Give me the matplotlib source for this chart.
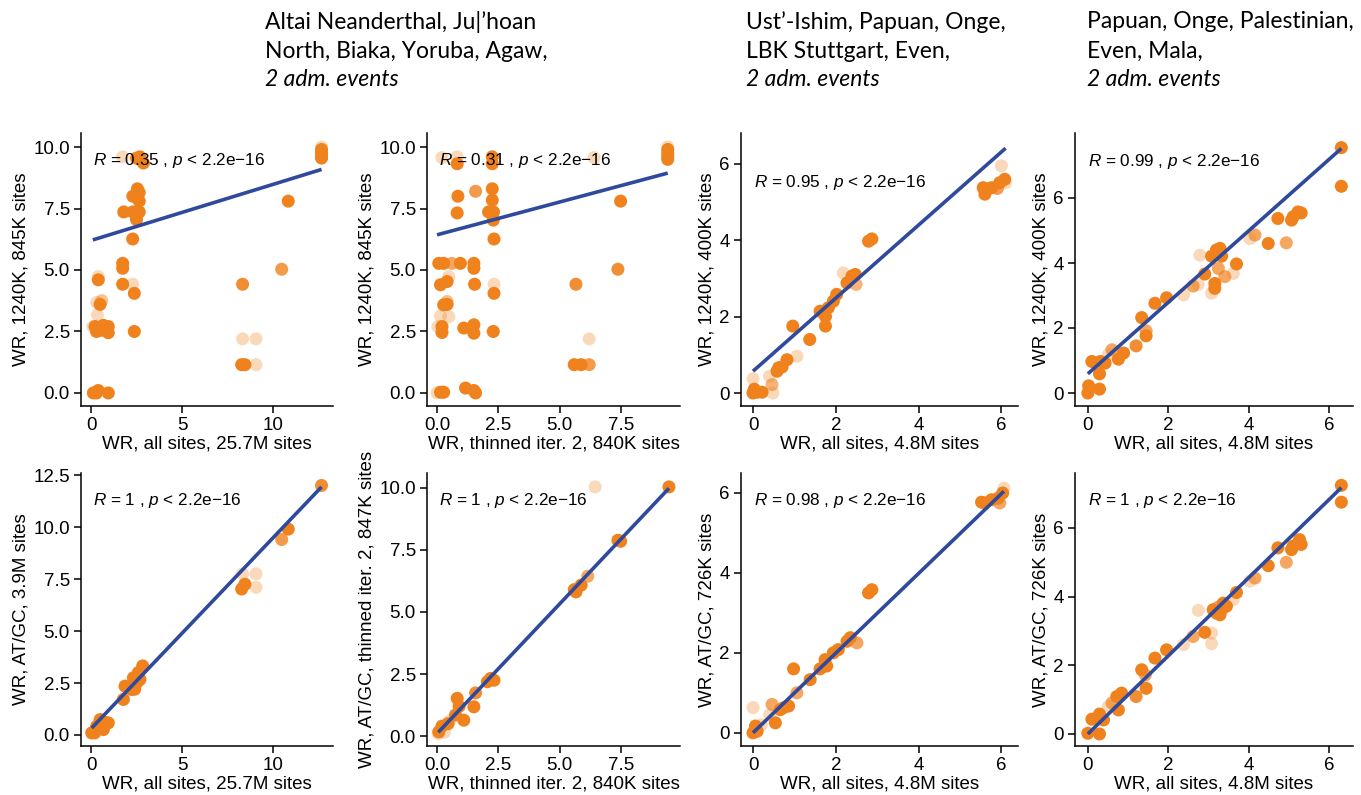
import matplotlib
matplotlib.use("Agg")
import matplotlib.pyplot as plt
import numpy as np

plt.rcParams['font.family'] = ['Liberation Sans', 'DejaVu Sans']
plt.rcParams['mathtext.fontset'] = 'custom'
plt.rcParams['mathtext.it'] = 'Liberation Sans:italic'
plt.rcParams['mathtext.rm'] = 'Liberation Sans'

ORANGE = (0.941, 0.51, 0.118)
BLUE = '#2F4A9C'

# ---- data: (x, y, alpha) per panel ----
p1_x = [12.67, 12.67, 12.67, 12.67, 12.67, 10.84, 10.48, 8.33, 8.28, 8.46, 9.07, 8.33, 9.07,
        1.74, 2.69, 2.88, 2.5, 2.55, 2.65, 2.3, 2.65, 1.8, 2.3, 2.65, 2.5, 2.29, 1.74, 1.74,
        1.74, 2.29, 2.38, 2.38, 0.4, 0.4, 0.31, 0.59, 0.5, 0.35, 0.1, 0.22, 0.3, 0.68, 0.95,
        0.95, 0.55, 0.13, 0.4, 0.3, 0.95]
p1_y = [10.0, 9.9, 9.75, 9.6, 9.55, 7.8, 5.03, 4.42, 1.15, 1.15, 1.15, 2.2, 2.2,
        9.6, 9.6, 9.35, 9.55, 8.3, 8.15, 8.0, 7.8, 7.36, 7.36, 7.36, 7.05, 6.26, 5.27, 5.07,
        4.42, 4.42, 4.05, 2.5, 4.73, 4.6, 3.68, 3.75, 3.6, 3.18, 2.7, 2.7, 2.5, 2.75, 2.7,
        2.45, 2.55, 0.0, 0.1, 0.0, 0.0]
p1_a = [0.3, 1, 1, 1, 1, 1, 0.8, 0.9, 1, 1, 0.3, 0.3, 0.3,
        0.3, 1, 1, 1, 1, 1, 1, 1, 1, 1, 1, 1, 1, 1, 1,
        1, 0.3, 1, 1, 0.3, 1, 0.3, 0.5, 1, 0.3, 0.3, 1, 1, 1, 1,
        1, 1, 1, 1, 1, 1]

p2_x = [9.4, 9.4, 9.4, 9.4, 9.4, 7.48, 7.37, 5.66, 5.59, 5.87, 6.2, 6.2,
        0.2, 0.82, 0.82, 2.25, 2.25, 6.4, 0.85, 1.57, 2.25, 2.25, 0.82, 2.1, 2.3, 2.29, 2.32,
        0.07, 0.27, 0.6, 0.95, 1.5, 1.5, 0.14, 0.41, 0.48, 1.53, 2.32, 2.32,
        0.41, 0.41, 0.27, 0.14, 0.48, 0.2, 0.2, 1.09, 1.5, 1.5, 2.29, 0.03,
        0.14, 0.27, 1.16, 1.5, 1.57, 0.0]
p2_y = [10.0, 9.9, 9.75, 9.6, 9.5, 7.8, 5.03, 4.42, 1.15, 1.15, 1.15, 2.2,
        9.57, 9.6, 9.32, 9.6, 9.32, 9.57, 8.0, 8.2, 8.3, 7.84, 7.32, 7.36, 7.36, 7.03, 6.26,
        5.27, 5.27, 5.27, 5.27, 5.27, 5.07, 4.4, 4.53, 4.73, 4.42, 4.42, 4.05,
        3.72, 3.6, 3.58, 3.13, 3.1, 2.7, 2.46, 2.64, 2.77, 2.43, 2.5, 2.7,
        0.03, 0.03, 0.2, 0.1, 0.0, 0.0]
p2_a = [0.3, 1, 1, 1, 1, 1, 0.9, 0.9, 1, 1, 0.8, 0.3,
        0.3, 0.3, 1, 1, 1, 0.3, 1, 0.8, 1, 1, 1, 1, 1, 1, 1,
        1, 1, 0.7, 1, 1, 1, 1, 1, 0.3, 1, 0.3, 1,
        0.5, 1, 1, 0.3, 0.3, 1, 1, 1, 1, 1, 1, 0.3,
        1, 1, 1, 1, 1, 0.3]

p3_x = [0.0, 0.1, 0.22, 0.03, 0.0, 0.46, 0.48, 0.4, 0.58, 0.62, 0.7, 0.82, 1.06, 0.96, 1.37,
        1.62, 1.75, 1.75, 1.82, 1.94, 2.02, 2.18, 2.27, 2.39, 2.47, 2.49, 2.79, 2.87,
        5.56, 5.6, 5.76, 5.96, 6.08, 6.0, 6.1, 5.9]
p3_y = [0.0, 0.02, 0.02, 0.1, 0.37, 0.22, 0.0, 0.44, 0.57, 0.66, 0.68, 0.87, 0.96, 1.75, 1.4,
        2.14, 2.0, 1.75, 2.23, 2.4, 2.58, 3.14, 2.88, 3.06, 3.1, 2.84, 3.97, 4.03,
        5.37, 5.2, 5.37, 5.5, 5.59, 5.94, 5.5, 5.35]
p3_a = [1, 1, 1, 1, 0.3, 0.6, 0.3, 0.3, 1, 1, 1, 1, 0.3, 1, 1,
        1, 1, 1, 1, 1, 1, 0.3, 1, 1, 1, 0.6, 1, 1,
        1, 1, 1, 1, 1, 0.3, 0.3, 0.8]

p4_x = [0.0, 0.02, 0.29, 0.29, 0.1, 0.31, 0.43, 0.51, 0.6, 0.76, 0.89, 1.2, 1.34, 1.45, 1.45,
        1.67, 1.96, 2.38, 2.62, 2.75, 2.79, 2.91, 3.08, 3.16, 3.16, 3.08, 3.2, 3.29, 3.33,
        3.25, 3.41, 3.62, 3.7, 4.03, 4.16, 4.49, 4.94, 4.73, 5.07, 5.11, 5.23, 5.31, 6.31, 6.31]
p4_y = [0.0, 0.22, 0.12, 0.59, 0.97, 0.97, 0.92, 1.18, 1.33, 1.04, 1.23, 1.45, 2.32, 1.76, 1.91,
        2.76, 2.93, 3.02, 3.29, 3.34, 4.24, 3.66, 3.07, 3.37, 3.22, 4.21, 4.4, 4.45, 4.21,
        3.83, 3.58, 3.68, 3.97, 4.75, 4.86, 4.6, 4.62, 5.37, 5.32, 5.42, 5.57, 5.54, 7.55, 6.36]
p4_a = [1, 1, 1, 1, 1, 1, 1, 0.3, 0.7, 1, 1, 0.9, 1, 1, 0.7,
        1, 1, 0.3, 0.7, 0.3, 0.3, 1, 0.3, 1, 1, 1, 1, 1, 1,
        0.7, 0.7, 0.3, 1, 0.3, 0.7, 1, 0.7, 1, 1, 1, 1, 1, 1, 1]

p5_x = [12.67, 10.84, 10.48, 8.28, 8.46, 9.07, 9.07, 8.33, 1.78, 1.87, 2.23, 2.33, 2.51,
        2.69, 2.84, 2.6, 2.4, 0.04, 0.31, 0.5, 0.68, 0.95, 0.8, 0.2]
p5_y = [12.0, 9.9, 9.4, 7.02, 7.25, 7.75, 7.1, 7.75, 1.71, 2.35, 2.19, 2.75, 2.51,
        2.67, 3.32, 3.0, 2.2, 0.1, 0.42, 0.74, 0.26, 0.58, 0.6, 0.1]
p5_a = [0.9, 1, 0.8, 1, 1, 0.3, 0.3, 0.3, 1, 1, 1, 1, 1,
        1, 1, 1, 1, 1, 1, 1, 1, 1, 1, 1]

p6_x = [9.45, 6.44, 7.37, 7.48, 6.14, 5.87, 5.59, 5.66, 2.18, 2.32, 2.05, 1.57, 1.5, 1.09,
        0.82, 0.9, 0.75, 0.45, 0.2, 0.07, 0.3, 0.05, 0.5]
p6_y = [10.04, 10.04, 7.89, 7.85, 6.44, 6.08, 5.9, 5.81, 2.32, 2.25, 2.19, 1.74, 1.18, 0.64,
        1.52, 1.2, 0.85, 0.5, 0.4, 0.17, 0.15, 0.1, 0.6]
p6_a = [1, 0.3, 1, 1, 0.7, 1, 1, 1, 1, 1, 1, 0.9, 1, 1,
        1, 1, 1, 1, 1, 1, 0.3, 0.3, 0.3]

p7_x = [0.0, 0.06, 0.1, 0.0, 0.46, 0.54, 0.4, 0.2, 0.66, 0.74, 0.86, 0.98, 1.06, 1.38,
        1.62, 1.74, 1.78, 1.94, 2.06, 2.27, 2.35, 2.51, 2.79, 2.87,
        5.52, 5.6, 5.76, 5.92, 5.96, 6.03, 6.06]
p7_y = [0.0, 0.17, 0.04, 0.63, 0.71, 0.25, 0.45, 0.2, 0.58, 0.63, 0.67, 1.6, 1.0, 1.33,
        1.6, 1.83, 1.67, 2.0, 2.08, 2.29, 2.38, 2.25, 3.5, 3.58,
        5.77, 5.75, 5.83, 5.87, 5.75, 6.0, 6.12]
p7_a = [1, 1, 1, 0.3, 0.7, 1, 0.3, 0.3, 1, 1, 1, 1, 0.7, 1,
        1, 1, 1, 1, 1, 1, 1, 0.7, 1, 1,
        1, 1, 1, 1, 0.7, 1, 0.3]

p8_x = [0.0, 0.1, 0.29, 0.29, 0.39, 0.51, 0.6, 0.72, 0.76, 0.84, 1.2, 1.34, 1.45, 1.43,
        1.67, 1.96, 2.38, 2.62, 2.75, 2.91, 3.08, 3.08, 3.12, 3.2, 3.29, 3.33, 3.45, 3.37,
        3.25, 3.62, 3.7, 4.03, 4.16, 4.49, 4.94, 4.73, 5.07, 5.11, 5.27, 5.31, 6.31, 6.31]
p8_y = [0.02, 0.43, 0.0, 0.58, 0.41, 0.8, 0.9, 1.09, 0.7, 1.19, 1.09, 1.87, 1.33, 1.72,
        2.21, 2.45, 2.6, 2.84, 3.6, 2.96, 2.94, 2.63, 3.62, 3.52, 3.47, 3.62, 3.72, 3.81,
        3.7, 3.91, 4.12, 4.45, 4.54, 4.9, 5.0, 5.42, 5.37, 5.47, 5.66, 5.52, 7.24, 6.75]
p8_a = [1, 1, 1, 1, 1, 0.3, 0.7, 1, 1, 1, 0.9, 1, 1, 0.7,
        1, 1, 0.3, 0.7, 0.3, 1, 0.3, 0.3, 1, 1, 1, 1, 1, 1,
        0.7, 0.3, 1, 0.3, 0.7, 1, 0.7, 1, 1, 1, 1, 1, 1, 1]

# fitted line (intercept, slope) and correlation label per panel
fits = [(6.2, 0.228), (6.43, 0.267), (0.57, 0.956), (0.59, 1.099),
        (0.3, 0.918), (0.1, 1.046), (0.0, 0.997), (0.0, 1.137)]
r_vals = ['0.35', '0.31', '0.95', '0.99', '1', '1', '0.98', '1']

x_labels = ['WR, all sites, 25.7M sites', 'WR, thinned iter. 2, 840K sites',
            'WR, all sites, 4.8M sites', 'WR, all sites, 4.8M sites'] * 2
y_labels = ['WR, 1240K, 845K sites', 'WR, 1240K, 845K sites',
            'WR, 1240K, 400K sites', 'WR, 1240K, 400K sites',
            'WR, AT/GC, 3.9M sites', 'WR, AT/GC, thinned iter. 2, 847K sites',
            'WR, AT/GC, 726K sites', 'WR, AT/GC, 726K sites']

titles = [['Altai Neanderthal, Ju|’hoan', 'North, Biaka, Yoruba, Agaw,', '2 adm. events'],
          ['Ust’-Ishim, Papuan, Onge,', 'LBK Stuttgart, Even,', '2 adm. events'],
          ['Papuan, Onge, Palestinian,', 'Even, Mala,', '2 adm. events']]

panels = [(p1_x, p1_y, p1_a), (p2_x, p2_y, p2_a), (p3_x, p3_y, p3_a), (p4_x, p4_y, p4_a),
          (p5_x, p5_y, p5_a), (p6_x, p6_y, p6_a), (p7_x, p7_y, p7_a), (p8_x, p8_y, p8_a)]

# layout (pixels) and axis setup
W, H = 1361, 795
col_left = [81, 427, 741, 1075]
col_w = [252, 253, 277, 278]
row_bottom = [406, 746]
ax_h = 273

xlims = [(-0.55, 13.3), (-0.41, 9.9), (-0.29, 6.4), (-0.32, 6.6)] * 2
ylims = [(-0.53, 10.57), (-0.53, 10.57), (-0.34, 6.8), (-0.4, 8.0),
         (-0.53, 12.6), (-0.4, 10.6), (-0.33, 6.5), (-0.35, 7.6)]
xticks = [[0, 5, 10], [0, 2.5, 5, 7.5], [0, 2, 4, 6], [0, 2, 4, 6]] * 2
yticks = [[0, 2.5, 5, 7.5, 10], [0, 2.5, 5, 7.5, 10], [0, 2, 4, 6], [0, 2, 4, 6],
          [0, 2.5, 5, 7.5, 10, 12.5], [0, 2.5, 5, 7.5, 10], [0, 2, 4, 6], [0, 2, 4, 6]]
label_y = [0.90, 0.90, 0.82, 0.895, 0.90, 0.90, 0.90, 0.90]

fig = plt.figure(figsize=(W / 100, H / 100), dpi=100)

for i, (xs, ys, al) in enumerate(panels):
    r, c = divmod(i, 4)
    rect = [col_left[c] / W, 1 - row_bottom[r] / H, col_w[c] / W, ax_h / H]
    ax = fig.add_axes(rect)
    xs = np.array(xs); ys = np.array(ys)
    cols = [ORANGE + (a,) for a in al]
    ax.scatter(xs, ys, s=88, c=cols, linewidths=0, zorder=2)
    b0, b1 = fits[i]
    xx = np.array([xs.min(), xs.max()])
    ax.plot(xx, b0 + b1 * xx, color=BLUE, lw=2.6, zorder=3, solid_capstyle='butt')
    ax.text(0.048, label_y[i], r'$\it{R}$ = ' + r_vals[i] + r' , $\it{p}$ < 2.2e−16',
            transform=ax.transAxes, fontsize=12.3, va='center', ha='left', zorder=4)
    ax.set_xlim(*xlims[i]); ax.set_ylim(*ylims[i])
    ax.set_xticks(xticks[i]); ax.set_yticks(yticks[i])
    if 2.5 in xticks[i]:
        ax.set_xticklabels([f'{v:.1f}' for v in xticks[i]])
    if 2.5 in yticks[i]:
        ax.set_yticklabels([f'{v:.1f}' for v in yticks[i]])
    for s in ['top', 'right']:
        ax.spines[s].set_visible(False)
    for s in ['left', 'bottom']:
        ax.spines[s].set_linewidth(1.1)
    ax.tick_params(labelsize=13.5, length=5, width=1.1, colors='black', pad=3)
    ax.set_xlabel(x_labels[i], fontsize=13.5, labelpad=1)
    ax.set_ylabel(y_labels[i], fontsize=13.5, labelpad=3)

title_x = [265, 746, 1087]
line_y = [22, 51, 80]
for tx, lines in zip(title_x, titles):
    for k, txt in enumerate(lines):
        fig.text(tx / W, 1 - line_y[k] / H, txt, fontsize=16.5, family='Lato',
                 style='italic' if k == 2 else 'normal', va='center', ha='left')

fig.savefig('out.png', dpi=100)
